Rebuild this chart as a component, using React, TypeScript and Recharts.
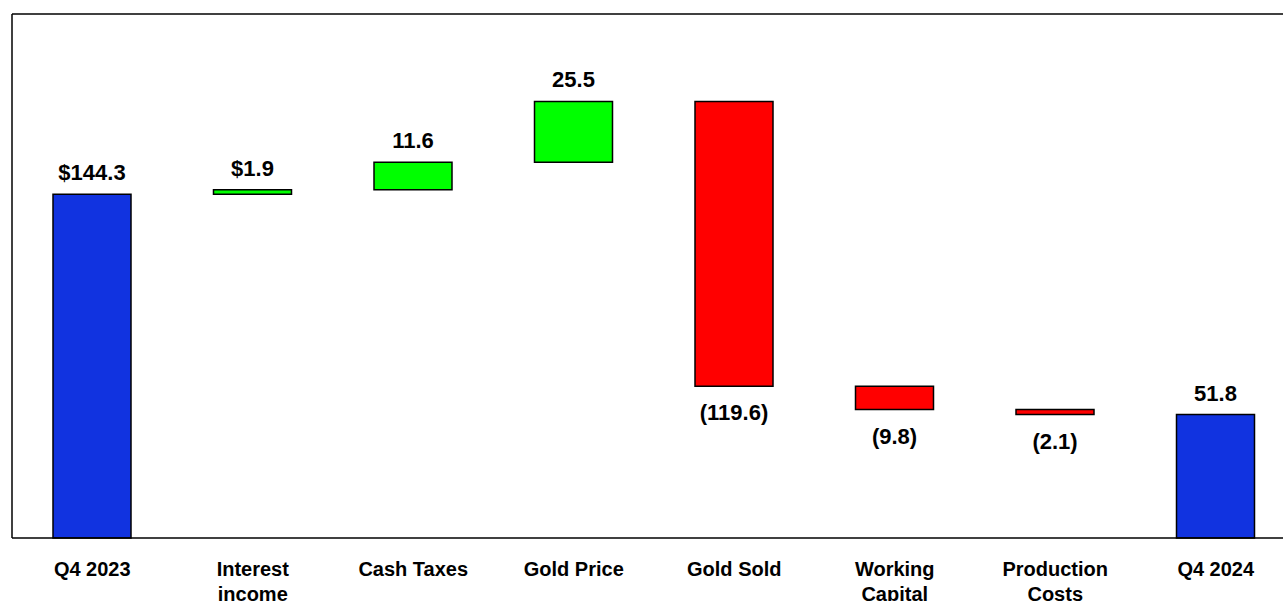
import { Bar, BarChart, Cell, LabelList, ReferenceLine, XAxis, YAxis } from 'recharts'

const categories = ['Q4 2023', 'Interest\nincome', 'Cash Taxes', 'Gold Price', 'Gold Sold', 'Working\nCapital', 'Production\nCosts', 'Q4 2024']
const changes = [144.3, 1.9, 11.6, 25.5, -119.6, -9.8, -2.1, 51.8]
const isTotal = [true, false, false, false, false, false, false, true]
const valueLabels = ['$144.3', '$1.9', '11.6', '25.5', '(119.6)', '(9.8)', '(2.1)', '51.8']

const BLUE = '#1133e0'
const GREEN = '#00ff00'
const RED = '#ff0000'

let running = 0
const chartData = categories.map((name, i) => {
	const v = changes[i]
	let base: number
	if (isTotal[i]) {
		base = 0
		running = v
	} else if (v >= 0) {
		base = running
		running += v
	} else {
		running += v
		base = running
	}
	return { name, base, amount: Math.abs(v), index: i }
})

function barColor(i: number) {
	if (isTotal[i]) return BLUE
	return changes[i] >= 0 ? GREEN : RED
}

const font = 'Liberation Sans, Arial, sans-serif'

function CategoryTick({ x, y, payload }: { x?: number; y?: number; payload?: { value: string } }) {
	const lines = (payload?.value ?? '').split('\n')
	return (
		<text x={x} y={(y ?? 0) + 30} textAnchor="middle" fontFamily={font} fontWeight="bold" fontSize={20} fill="#000">
			{lines.map((l, k) => (
				<tspan key={k} x={x} dy={k === 0 ? 0 : 25}>
					{l}
				</tspan>
			))}
		</text>
	)
}

function ValueLabel(props: any) {
	const { x, y, width, height, index } = props
	const neg = changes[index] < 0
	const cx = Number(x) + Number(width) / 2
	const ty = neg ? Number(y) + Number(height) + 34 : Number(y) - 14
	return (
		<text x={cx} y={ty} textAnchor="middle" fontFamily={font} fontWeight="bold" fontSize={22} fill="#000">
			{valueLabels[index]}
		</text>
	)
}

export default function App() {
	return (
		<div style={{ position: 'fixed', left: 0, top: 0, width: 1283, height: 601, overflow: 'hidden', background: '#fff' }}>
			<BarChart
				width={1300}
				height={601}
				data={chartData}
				margin={{ top: 14, right: 4, left: 11, bottom: 0 }}
				barCategoryGap={0}
			>
				<XAxis
					dataKey="name"
					interval={0}
					tickLine={false}
					axisLine={{ stroke: '#000', strokeWidth: 1.5 }}
					tick={<CategoryTick />}
					height={63}
				/>
				<YAxis
					domain={[0, 220]}
					tick={false}
					tickLine={false}
					width={1}
					axisLine={{ stroke: '#000', strokeWidth: 1.5 }}
				/>
				<ReferenceLine y={220} stroke="#000" strokeWidth={1.5} />
				<Bar dataKey="base" stackId="w" fill="transparent" barSize={78} isAnimationActive={false} />
				<Bar dataKey="amount" stackId="w" barSize={78} stroke="#000" strokeWidth={1.5} isAnimationActive={false}>
					{chartData.map((d) => (
						<Cell key={d.index} fill={barColor(d.index)} />
					))}
					<LabelList dataKey="amount" content={<ValueLabel />} />
				</Bar>
			</BarChart>
		</div>
	)
}
